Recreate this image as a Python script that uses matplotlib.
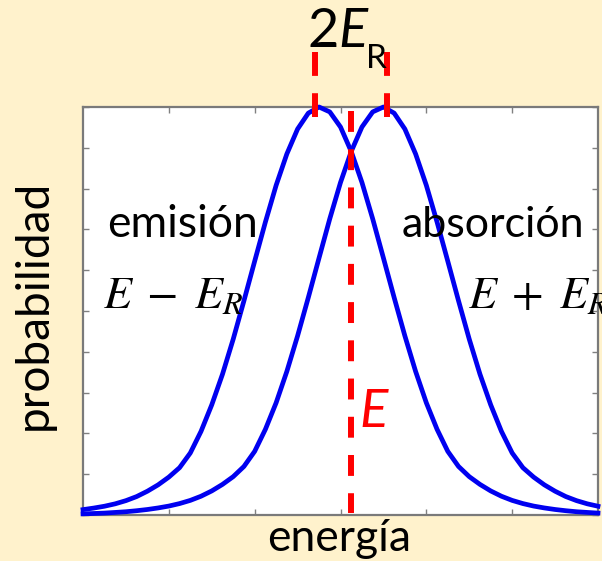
import matplotlib.pyplot as plt

# energy axis samples and the two line profiles (emission below E, absorption above E)
energy = [-3.0, -2.875, -2.75, -2.625, -2.5, -2.375, -2.25, -2.125, -2.0, -1.875,
          -1.75, -1.625, -1.5, -1.375, -1.25, -1.125, -1.0, -0.875, -0.75, -0.625,
          -0.5, -0.375, -0.25, -0.125, 0.0, 0.125, 0.25, 0.375, 0.5, 0.625,
          0.75, 0.875, 1.0, 1.125, 1.25, 1.375, 1.5, 1.625, 1.75, 1.875,
          2.0, 2.125, 2.25, 2.375, 2.5, 2.625, 2.75, 2.875, 3.0]
emision = [0.0132, 0.0170, 0.0215, 0.0274, 0.0352, 0.0452, 0.0583, 0.0739, 0.0929, 0.116,
           0.152, 0.205, 0.270, 0.345, 0.431, 0.525, 0.622, 0.718, 0.808, 0.885,
           0.946, 0.985, 1.000, 0.988, 0.951, 0.891, 0.815, 0.726, 0.630, 0.533,
           0.439, 0.352, 0.275, 0.210, 0.156, 0.119, 0.094, 0.075, 0.059, 0.046,
           0.0358, 0.028, 0.0219, 0.0173, 0.0135, 0.0105, 0.0080, 0.0063, 0.0047]
absorcion = [0.0028, 0.0037, 0.0047, 0.0063, 0.0080, 0.0105, 0.0135, 0.0173, 0.0219, 0.028,
             0.0358, 0.046, 0.059, 0.075, 0.094, 0.119, 0.156, 0.210, 0.275, 0.352,
             0.439, 0.533, 0.630, 0.726, 0.815, 0.891, 0.951, 0.988, 1.000, 0.985,
             0.946, 0.885, 0.808, 0.718, 0.622, 0.525, 0.431, 0.345, 0.270, 0.205,
             0.152, 0.116, 0.0929, 0.0739, 0.0583, 0.0452, 0.0352, 0.0274, 0.0215]

E0 = 0.125                 # transition energy
marks = [-0.295, 0.545]    # E - E_R and E + E_R markers

x_ticks = [-2, -1, 0, 1, 2]
y_ticks = [0.0, 0.1, 0.2, 0.3, 0.4, 0.5, 0.6, 0.7, 0.8, 0.9, 1.0]

bg = '#FFF2CC'
W, H = 602, 561

plt.rcParams['font.family'] = ['Lato', 'DejaVu Sans']
plt.rcParams['mathtext.fontset'] = 'custom'
plt.rcParams['mathtext.rm'] = 'Lato'
plt.rcParams['mathtext.it'] = 'Lato:italic'

fig = plt.figure(figsize=(W / 100, H / 100), dpi=100, facecolor=bg)
ax = fig.add_axes([83 / W, 46 / H, 515 / W, 408 / H])

ax.plot(energy, emision, color='#0000F0', lw=3.4, clip_on=False, zorder=3)
ax.plot(energy, absorcion, color='#0000F0', lw=3.4, clip_on=False, zorder=3)

# dashed line at E
ax.plot([E0, E0], [0.99, 0.005], color='#FF0000', lw=4.3, dashes=(3.5, 2.9), zorder=4)
# the two markers, 2E_R apart
for m in marks:
    ax.plot([m, m], [1.135, 0.975], color='#FF0000', lw=4.3, dashes=(4.0, 2.9),
            clip_on=False, zorder=4)

ax.set_xlim(-3, 3)
ax.set_ylim(0, 1)
ax.set_xticks(x_ticks)
ax.set_yticks(y_ticks)
ax.set_xticklabels([])
ax.set_yticklabels([])
ax.tick_params(direction='in', length=4, width=1, color='#808080',
               top=True, right=True)
for s in ax.spines.values():
    s.set_color('#7a7a7a')
    s.set_linewidth(1.6)


def at(x, y):
    return x / W, 1 - y / H


fig.text(*at(107, 237), 'emisión', fontsize=32, va='baseline', ha='left', zorder=5)
fig.text(*at(402, 237), 'absorción', fontsize=31, va='baseline', ha='left', zorder=5)
fig.text(*at(103, 308), r'$E\;-\;E_R$', fontsize=33, va='baseline', ha='left',
         math_fontfamily='stix', zorder=5)
fig.text(*at(468, 308), r'$E\;+\;E_R$', fontsize=33, va='baseline', ha='left',
         math_fontfamily='stix', zorder=5)
fig.text(*at(359, 427), r'$E$', fontsize=38, color='#FF0000', va='baseline', ha='left',
         zorder=5)
fig.text(*at(307, 47), r'$2E$', fontsize=39, va='baseline', ha='left')
fig.text(*at(366, 68), 'R', fontsize=24, va='baseline', ha='left')
fig.text(*at(34, 305), 'probabilidad', fontsize=33, rotation=90, va='center', ha='center')
fig.text(*at(339, 551), 'energía', fontsize=32, va='baseline', ha='center')

fig.savefig('out.png', dpi=100, facecolor=bg)
